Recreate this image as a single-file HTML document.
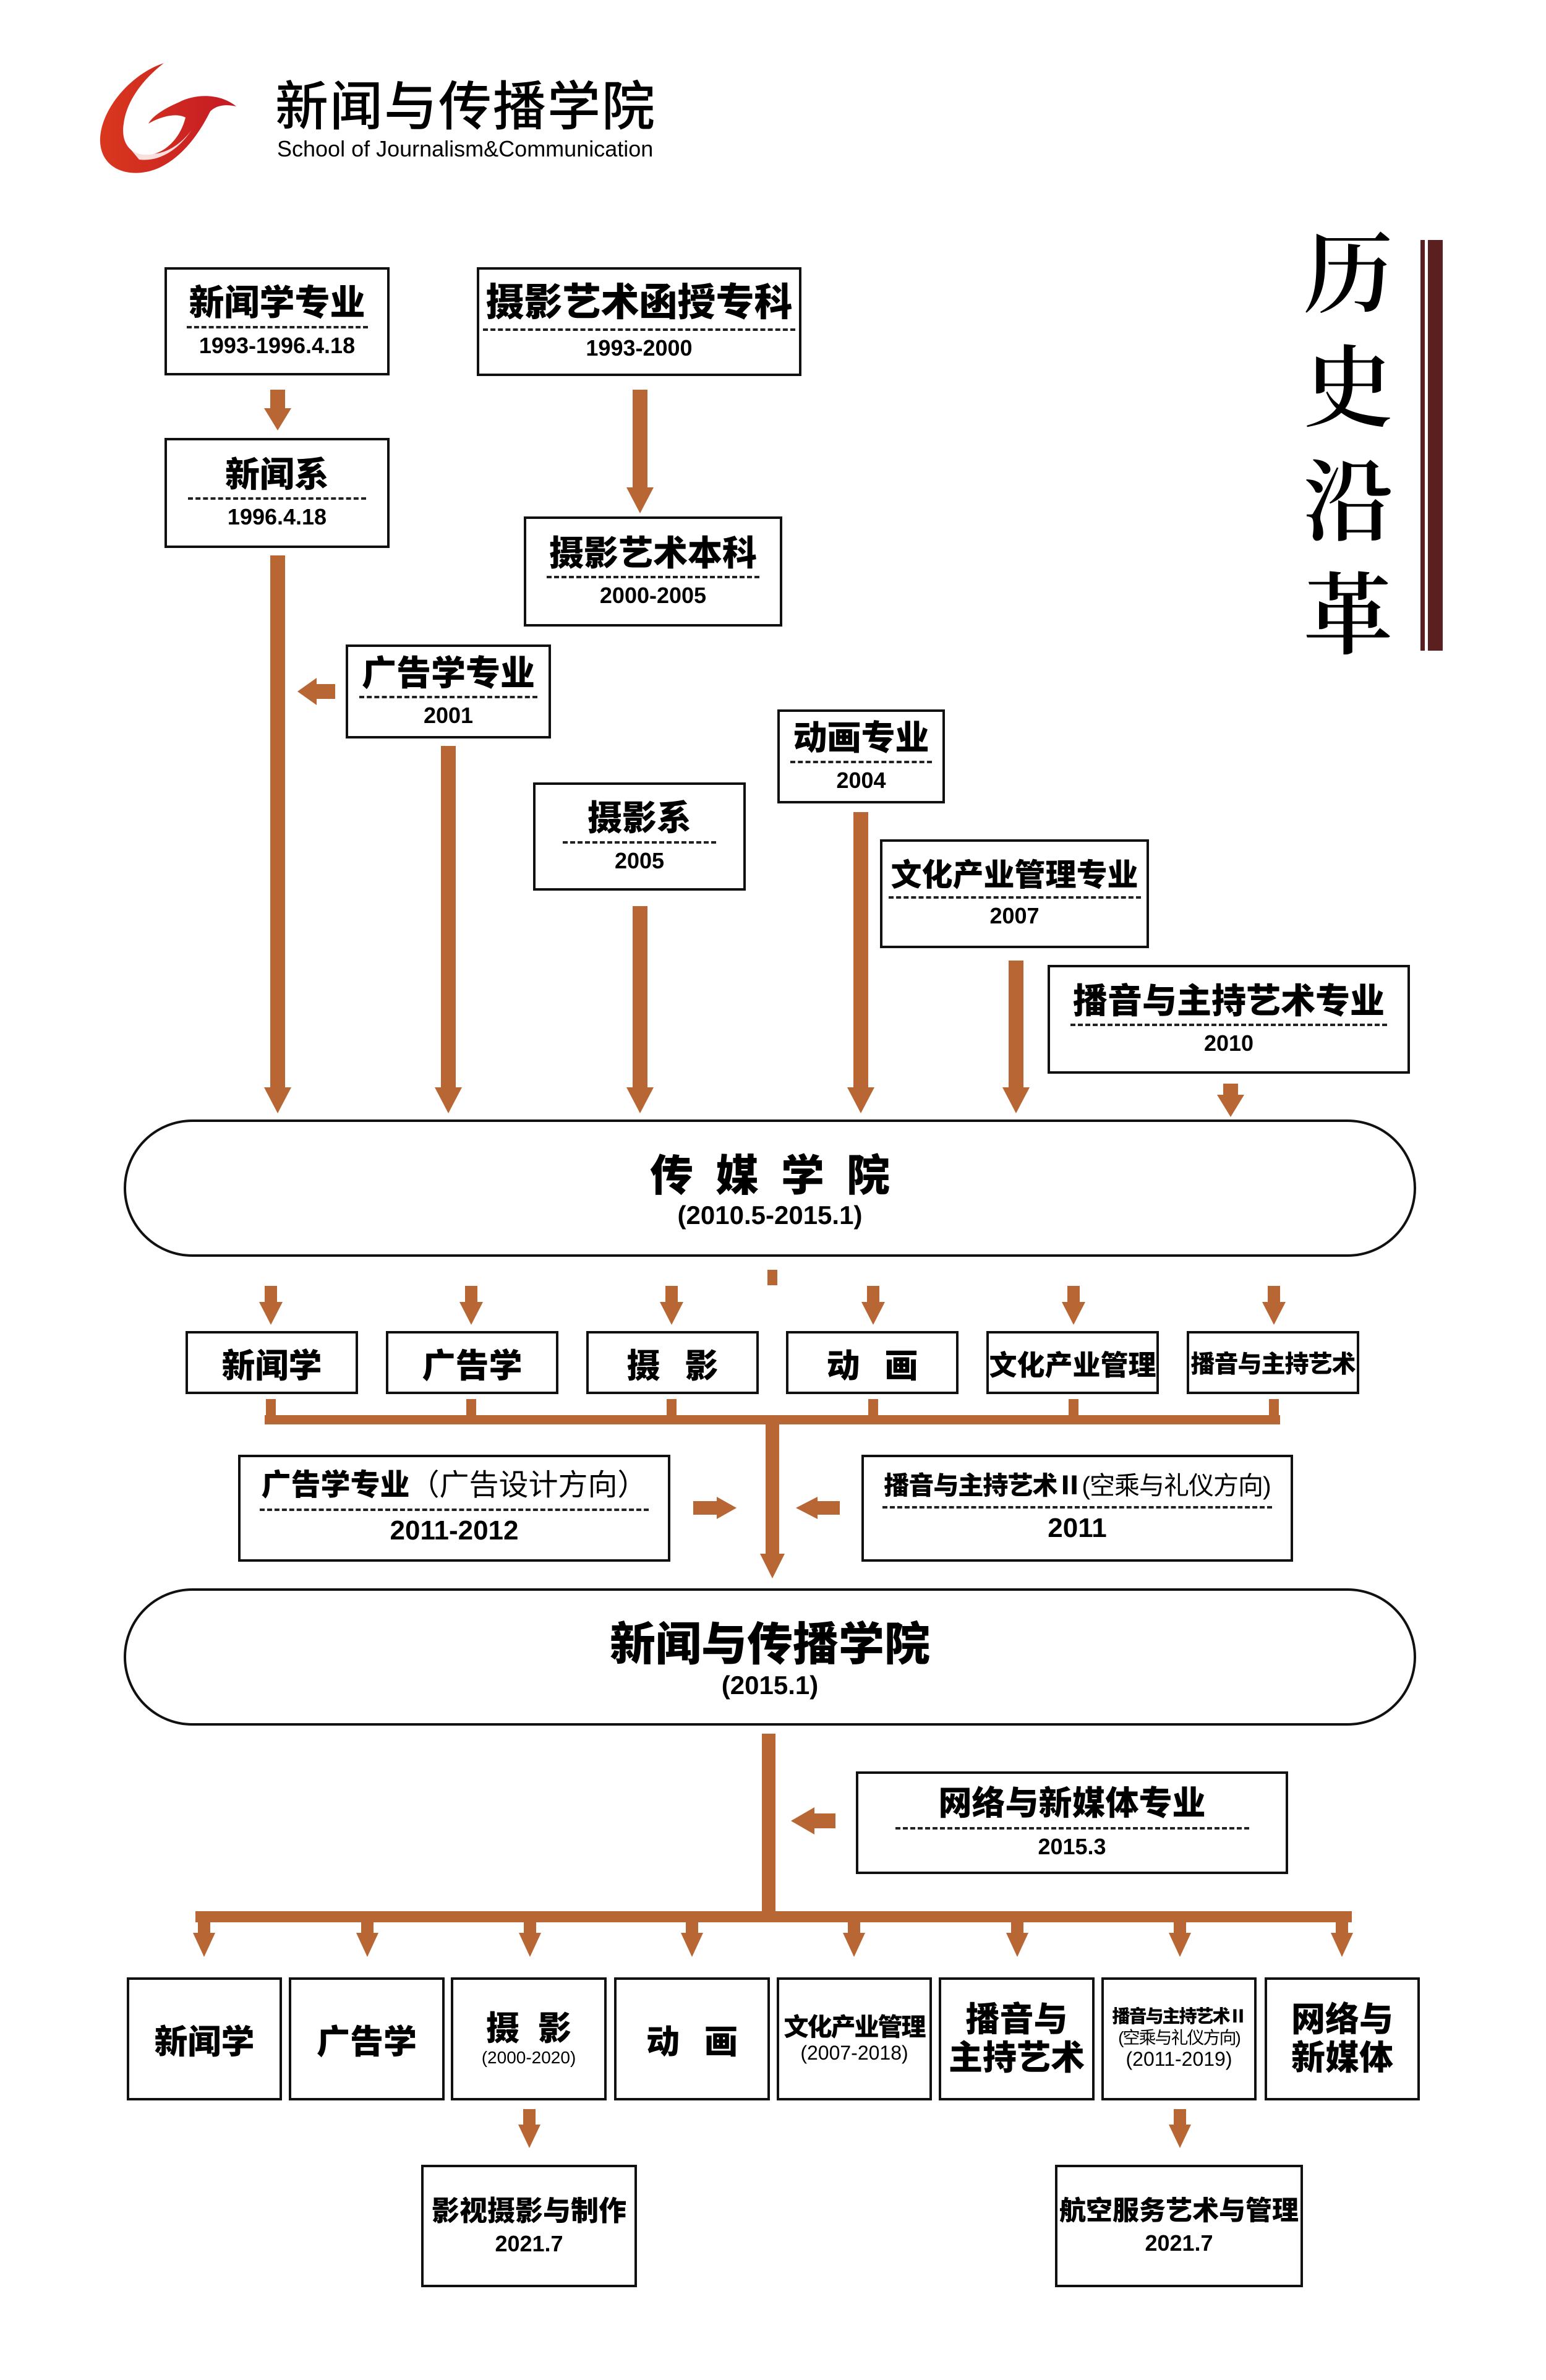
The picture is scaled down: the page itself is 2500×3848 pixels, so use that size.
<!DOCTYPE html>
<html><head><meta charset="utf-8">
<style>
body{margin:0;width:2500px;height:3848px;background:#fff;position:relative;overflow:hidden;font-family:"Liberation Sans","Noto Sans CJK SC",sans-serif;}
.a{position:absolute;box-sizing:border-box;}
.bx{position:absolute;box-sizing:border-box;border:4px solid #111;background:#fff;display:flex;flex-direction:column;align-items:center;justify-content:center;font-weight:900;color:#000;text-align:center;}
.t{font-weight:900;line-height:1.1;border-bottom:4px dashed #222;padding:0 4px 6px;white-space:nowrap;}
.d{font-weight:700;font-size:36px;line-height:1.2;margin-top:6px;white-space:nowrap;}
.pill{position:absolute;box-sizing:border-box;border:4px solid #111;border-radius:111px/111px;background:#fff;display:flex;flex-direction:column;align-items:center;justify-content:center;}
.s{white-space:nowrap;line-height:1.15;}
</style></head><body>

<!-- logo -->
<svg class="a" style="left:150px;top:90px" width="240" height="210" viewBox="0 0 240 210">
<defs><linearGradient id="g" x1="0" y1="0" x2="1" y2="0"><stop offset="0" stop-color="#d9381e"/><stop offset="1" stop-color="#c41a24"/></linearGradient></defs>
<path d="M115 12 C60 30 10 90 12 140 C15 190 70 200 110 180 C150 160 175 120 190 90 C200 80 215 78 232 82 C205 60 165 62 140 75 C110 88 95 100 90 110 C110 98 135 92 150 100 C140 140 110 160 90 160 C60 162 45 140 50 110 C55 70 85 35 115 12 Z" fill="url(#g)"/>
<path d="M60 150 C90 168 130 160 160 120 C140 150 110 172 75 168 Z" fill="#fff" opacity="0.85"/>
</svg>
<div class="a" style="left:445px;top:118px;font-size:86px;font-weight:500;letter-spacing:2px;white-space:nowrap;line-height:1.1;font-family:'Noto Sans CJK SC',sans-serif;">新闻与传播学院</div>
<div class="a" style="left:448px;top:220px;font-size:36px;white-space:nowrap;">School of Journalism&amp;Communication</div>

<!-- vertical title -->
<div class="a" style="left:2100px;top:340px;width:160px;font-family:'Noto Serif CJK SC',serif;font-weight:600;font-size:145px;line-height:184px;text-align:center;">历<br>史<br>沿<br>革</div>
<div class="a" style="left:2297px;top:388px;width:7px;height:664px;background:#5a1f1f"></div>
<div class="a" style="left:2309px;top:388px;width:24px;height:664px;background:#5a1f1f"></div>

<!-- arrows -->
<svg class="a" style="left:0;top:0" width="2500" height="3848">
<g fill="#b86633">
<rect x="437" y="630" width="24" height="30"/><polygon points="427,660 471,660 449,696"/>
<rect x="1023" y="630" width="24" height="160"/><polygon points="1013,788 1057,788 1035,830"/>
<rect x="437" y="898" width="24" height="862"/><polygon points="427,1758 471,1758 449,1800"/>
<rect x="713" y="1206" width="24" height="554"/><polygon points="703,1758 747,1758 725,1800"/>
<rect x="1023" y="1465" width="24" height="295"/><polygon points="1013,1758 1057,1758 1035,1800"/>
<rect x="1380" y="1313" width="24" height="447"/><polygon points="1370,1758 1414,1758 1392,1800"/>
<rect x="1631" y="1553" width="24" height="207"/><polygon points="1621,1758 1665,1758 1643,1800"/>
<rect x="1978" y="1752" width="24" height="20"/><polygon points="1968,1770 2012,1770 1990,1806"/>
<rect x="510" y="1106" width="32" height="24"/><polygon points="512,1096 512,1140 481,1118"/>
<rect x="1241" y="2053" width="16" height="25"/>
<rect x="428" y="2079" width="20" height="28"/><polygon points="419,2105 457,2105 438,2142"/>
<rect x="752" y="2079" width="20" height="28"/><polygon points="743,2105 781,2105 762,2142"/>
<rect x="1076" y="2079" width="20" height="28"/><polygon points="1067,2105 1105,2105 1086,2142"/>
<rect x="1402" y="2079" width="20" height="28"/><polygon points="1393,2105 1431,2105 1412,2142"/>
<rect x="1726" y="2079" width="20" height="28"/><polygon points="1717,2105 1755,2105 1736,2142"/>
<rect x="2050" y="2079" width="20" height="28"/><polygon points="2041,2105 2079,2105 2060,2142"/>
<rect x="430" y="2262" width="16" height="38"/><rect x="754" y="2262" width="16" height="38"/><rect x="1078" y="2262" width="16" height="38"/>
<rect x="1404" y="2262" width="16" height="38"/><rect x="1728" y="2262" width="16" height="38"/><rect x="2052" y="2262" width="16" height="38"/>
<rect x="428" y="2288" width="1642" height="15"/>
<rect x="1238" y="2300" width="22" height="215"/><polygon points="1229,2512 1269,2512 1249,2552"/>
<rect x="1121" y="2427" width="40" height="22"/><polygon points="1159,2420 1159,2456 1191,2438"/>
<rect x="1320" y="2427" width="38" height="22"/><polygon points="1322,2420 1322,2456 1287,2438"/>
<rect x="1232" y="2803" width="22" height="300"/>
<rect x="1315" y="2932" width="36" height="24"/><polygon points="1317,2922 1317,2966 1279,2944"/>
<rect x="316" y="3090" width="1870" height="18"/>
<rect x="320" y="3105" width="20" height="25"/><polygon points="312,3125 348,3125 330,3164"/>
<rect x="584" y="3105" width="20" height="25"/><polygon points="576,3125 612,3125 594,3164"/>
<rect x="847" y="3105" width="20" height="25"/><polygon points="839,3125 875,3125 857,3164"/>
<rect x="1109" y="3105" width="20" height="25"/><polygon points="1101,3125 1137,3125 1119,3164"/>
<rect x="1371" y="3105" width="20" height="25"/><polygon points="1363,3125 1399,3125 1381,3164"/>
<rect x="1635" y="3105" width="20" height="25"/><polygon points="1627,3125 1663,3125 1645,3164"/>
<rect x="1898" y="3105" width="20" height="25"/><polygon points="1890,3125 1926,3125 1908,3164"/>
<rect x="2160" y="3105" width="20" height="25"/><polygon points="2152,3125 2188,3125 2170,3164"/>
<rect x="846" y="3410" width="20" height="28"/><polygon points="838,3435 874,3435 856,3473"/>
<rect x="1898" y="3410" width="20" height="28"/><polygon points="1890,3435 1926,3435 1908,3473"/>
</g>
</svg>

<!-- top boxes -->
<div class="bx" style="left:266px;top:432px;width:364px;height:175px;"><div class="t" style="font-size:57px">新闻学专业</div><div class="d">1993-1996.4.18</div></div>
<div class="bx" style="left:771px;top:432px;width:525px;height:176px;"><div class="t" style="font-size:62px">摄影艺术函授专科</div><div class="d">1993-2000</div></div>
<div class="bx" style="left:266px;top:708px;width:364px;height:178px;"><div class="t" style="font-size:56px;padding:0 60px 6px">新闻系</div><div class="d">1996.4.18</div></div>
<div class="bx" style="left:847px;top:835px;width:418px;height:178px;"><div class="t" style="font-size:56px">摄影艺术本科</div><div class="d">2000-2005</div></div>
<div class="bx" style="left:559px;top:1042px;width:332px;height:152px;"><div class="t" style="font-size:56px">广告学专业</div><div class="d">2001</div></div>
<div class="bx" style="left:862px;top:1265px;width:344px;height:175px;"><div class="t" style="font-size:56px;padding:0 40px 6px">摄影系</div><div class="d">2005</div></div>
<div class="bx" style="left:1257px;top:1147px;width:271px;height:152px;"><div class="t" style="font-size:55px">动画专业</div><div class="d">2004</div></div>
<div class="bx" style="left:1423px;top:1357px;width:435px;height:176px;"><div class="t" style="font-size:50px">文化产业管理专业</div><div class="d">2007</div></div>
<div class="bx" style="left:1694px;top:1560px;width:586px;height:176px;"><div class="t" style="font-size:56px">播音与主持艺术专业</div><div class="d">2010</div></div>

<!-- pill 1 -->
<div class="pill" style="left:200px;top:1810px;width:2090px;height:222px;">
<div class="s" style="font-size:70px;font-weight:900;letter-spacing:36px;margin-left:36px;margin-top:8px">传媒学院</div>
<div class="s" style="font-size:42px;font-weight:700">(2010.5-2015.1)</div></div>

<!-- row boxes -->
<div class="bx" style="left:300px;top:2152px;width:279px;height:102px;font-size:54px">新闻学</div>
<div class="bx" style="left:624px;top:2152px;width:279px;height:102px;font-size:54px">广告学</div>
<div class="bx" style="left:948px;top:2152px;width:279px;height:102px;font-size:54px;letter-spacing:40px;padding-left:40px">摄影</div>
<div class="bx" style="left:1271px;top:2152px;width:279px;height:102px;font-size:54px;letter-spacing:40px;padding-left:40px">动画</div>
<div class="bx" style="left:1595px;top:2152px;width:279px;height:102px;font-size:45px">文化产业管理</div>
<div class="bx" style="left:1919px;top:2152px;width:279px;height:102px;font-size:39px;letter-spacing:-1px">播音与主持艺术</div>

<div class="bx" style="left:385px;top:2352px;width:699px;height:173px;"><div class="t" style="font-size:48px;padding:0 2px 10px">广告学专业<span style="font-weight:400">（广告设计方向）</span></div><div class="d" style="font-size:44px">2011-2012</div></div>
<div class="bx" style="left:1393px;top:2352px;width:698px;height:173px;"><div class="t" style="font-size:41px;padding:0 2px 10px;letter-spacing:-1px">播音与主持艺术Ⅱ<span style="font-weight:400">(空乘与礼仪方向)</span></div><div class="d" style="font-size:44px">2011</div></div>

<!-- pill 2 -->
<div class="pill" style="left:200px;top:2568px;width:2090px;height:222px;">
<div class="s" style="font-size:74px;font-weight:900;margin-top:8px">新闻与传播学院</div>
<div class="s" style="font-size:42px;font-weight:700">(2015.1)</div></div>

<div class="bx" style="left:1384px;top:2864px;width:699px;height:166px;"><div class="t" style="font-size:54px;padding:0 70px 8px">网络与新媒体专业</div><div class="d">2015.3</div></div>

<!-- bottom row -->
<div class="bx" style="left:205px;top:3197px;width:251px;height:199px;font-size:54px">新闻学</div>
<div class="bx" style="left:467px;top:3197px;width:252px;height:199px;font-size:54px">广告学</div>
<div class="bx" style="left:729px;top:3197px;width:252px;height:199px;"><div class="s" style="font-size:54px;letter-spacing:30px;padding-left:30px">摄影</div><div class="s" style="font-size:28px;font-weight:400">(2000-2020)</div></div>
<div class="bx" style="left:993px;top:3197px;width:252px;height:199px;font-size:54px;letter-spacing:40px;padding-left:40px">动画</div>
<div class="bx" style="left:1256px;top:3197px;width:251px;height:199px;"><div class="s" style="font-size:40px;letter-spacing:-2px">文化产业管理</div><div class="s" style="font-size:32px;font-weight:400">(2007-2018)</div></div>
<div class="bx" style="left:1518px;top:3197px;width:252px;height:199px;font-size:55px;line-height:1.12">播音与<br>主持艺术</div>
<div class="bx" style="left:1781px;top:3197px;width:251px;height:199px;"><div class="s" style="font-size:29px;letter-spacing:-2px">播音与主持艺术Ⅱ</div><div class="s" style="font-size:28px;font-weight:400;letter-spacing:-2px">(空乘与礼仪方向)</div><div class="s" style="font-size:32px;font-weight:400">(2011-2019)</div></div>
<div class="bx" style="left:2045px;top:3197px;width:251px;height:199px;font-size:55px;line-height:1.12">网络与<br>新媒体</div>

<div class="bx" style="left:681px;top:3500px;width:349px;height:198px;"><div class="s" style="font-size:45px">影视摄影与制作</div><div class="s" style="font-size:36px;margin-top:6px">2021.7</div></div>
<div class="bx" style="left:1706px;top:3500px;width:401px;height:198px;"><div class="s" style="font-size:43px">航空服务艺术与管理</div><div class="s" style="font-size:36px;margin-top:6px">2021.7</div></div>

</body></html>
